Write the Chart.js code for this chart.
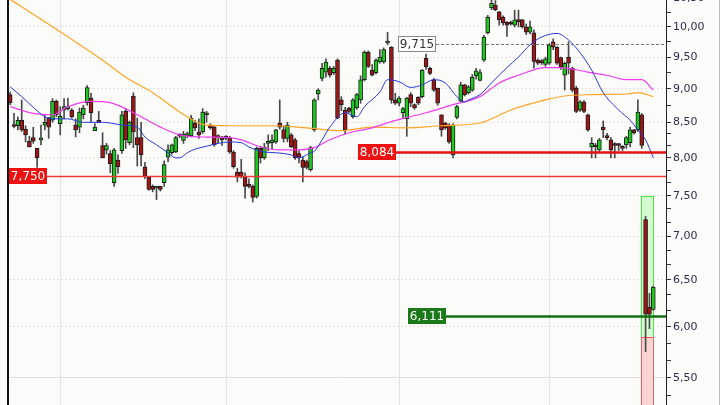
<!DOCTYPE html>
<html>
<head>
<meta charset="utf-8">
<script src="https://cdn.jsdelivr.net/npm/chart.js@4.4.1/dist/chart.umd.min.js"></script>
<style>
html, body { margin: 0; padding: 0; background: #fbfcf9; }
#wrap { width: 720px; height: 405px; position: relative; }
</style>
</head>
<body>
<div id="wrap"><canvas id="chart"></canvas></div>
<script>
// daily candles
var opens = [8.91,8.46,8.45,8.53,8.40,8.23,8.28,8.13,8.25,8.46,8.57,8.53,8.81,8.48,8.68,8.70,8.68,8.46,8.43,8.61,
  8.79,8.86,8.38,8.52,8.17,8.11,8.06,7.67,7.97,8.10,8.66,8.21,8.89,8.28,8.28,7.88,7.74,7.62,7.60,7.62,
  7.67,8.01,8.07,8.08,8.32,8.24,8.31,8.31,8.49,8.36,8.36,8.61,8.46,8.43,8.29,8.26,8.27,8.28,8.08,7.81,
  7.81,7.75,7.63,7.62,7.49,8.13,8.00,8.20,8.21,8.22,8.49,8.39,8.27,8.32,8.25,8.06,7.97,7.95,7.84,8.39,
  8.92,9.16,9.26,9.32,9.25,9.45,8.83,8.68,8.71,8.58,8.71,8.83,9.14,9.58,9.29,9.25,9.42,9.42,9.73,9.66,
  8.83,8.78,8.64,8.55,8.91,8.76,8.87,8.88,9.48,9.32,9.14,9.01,8.61,8.49,8.46,8.04,8.57,8.81,9.06,8.94,
  8.98,9.20,9.13,9.45,9.90,10.33,10.38,10.26,10.17,10.08,10.08,10.03,10.12,10.12,10.00,9.91,9.90,9.45,9.44,9.38,
  9.40,9.75,9.66,9.49,9.21,9.50,9.32,9.01,8.68,8.80,8.61,8.15,8.17,8.11,8.43,8.29,8.25,8.18,8.18,8.15,
  8.18,8.21,8.39,8.39,8.61,7.20,6.20,6.18];
var highs = [8.95,8.63,8.58,8.83,8.45,8.30,8.43,8.13,8.46,8.60,8.57,8.85,8.83,8.73,8.85,8.86,8.70,8.55,8.71,8.75,
  9.05,8.93,8.48,8.66,8.35,8.20,8.10,8.13,8.04,8.66,8.70,8.52,8.94,8.56,8.50,7.94,7.75,7.64,7.62,7.62,
  7.96,8.18,8.19,8.30,8.34,8.37,8.36,8.60,8.53,8.55,8.70,8.66,8.48,8.45,8.32,8.30,8.31,8.30,8.10,7.86,
  7.98,7.80,7.72,7.64,8.15,8.16,8.20,8.32,8.32,8.40,8.83,8.45,8.50,8.34,8.27,8.10,8.01,7.97,8.16,8.85,
  9.00,9.40,9.47,9.35,9.35,9.47,8.88,8.72,8.72,8.85,8.93,9.20,9.60,9.60,9.38,9.47,9.62,9.65,9.91,9.67,
  8.93,8.88,8.72,8.87,8.94,8.77,8.88,9.30,9.55,9.34,9.16,9.01,8.61,8.50,8.48,8.48,8.75,9.10,9.07,9.05,
  9.22,9.32,9.30,9.86,10.20,10.47,10.46,10.27,10.19,10.09,10.10,10.29,10.29,10.13,10.05,10.10,9.95,9.47,9.46,9.50,
  9.72,9.80,9.67,9.50,9.42,9.75,9.34,9.04,8.82,8.82,8.62,8.28,8.20,8.27,8.52,8.34,8.28,8.21,8.20,8.17,
  8.30,8.43,8.40,8.83,8.63,7.24,6.35,6.43];
var lows = [8.76,8.42,8.39,8.37,8.22,8.15,8.20,7.87,8.18,8.39,8.27,8.50,8.58,8.32,8.55,8.68,8.56,8.29,8.35,8.55,
  8.75,8.50,8.38,8.50,8.00,8.05,7.80,7.62,7.79,8.06,8.13,8.18,8.14,7.89,7.89,7.72,7.57,7.55,7.45,7.56,
  7.62,7.95,8.05,8.07,8.28,8.20,8.28,8.29,8.38,8.27,8.34,8.50,8.40,8.16,8.21,8.17,8.25,8.06,7.86,7.68,
  7.73,7.47,7.60,7.42,7.47,7.93,7.98,8.10,8.12,8.20,8.40,8.22,8.22,8.14,7.98,7.93,7.68,7.85,7.82,8.37,
  8.83,9.12,9.18,9.18,9.22,8.55,8.67,8.33,8.64,8.56,8.69,8.78,9.12,9.33,9.20,9.23,9.40,9.40,9.70,8.78,
  8.76,8.74,8.56,8.30,8.73,8.69,8.76,8.86,9.30,9.22,8.96,8.75,8.30,8.40,8.20,8.00,8.55,8.80,8.89,8.92,
  8.96,9.15,9.12,9.43,9.88,10.30,10.28,10.03,10.03,9.84,10.03,10.00,10.00,9.98,9.87,9.88,9.32,9.38,9.38,9.35,
  9.38,9.62,9.38,9.30,8.98,9.23,8.95,8.64,8.66,8.64,8.37,8.00,8.00,8.08,8.28,8.25,8.00,8.00,8.10,8.10,
  8.13,8.15,8.33,8.37,8.13,5.75,5.98,6.17];
var closes = [8.79,8.44,8.53,8.39,8.32,8.15,8.23,8.00,8.26,8.50,8.43,8.81,8.61,8.59,8.73,8.71,8.58,8.39,8.65,8.71,
  9.02,8.64,8.43,8.50,8.00,8.17,7.92,8.11,7.88,8.61,8.25,8.50,8.36,8.18,8.04,7.75,7.58,7.58,7.61,7.58,
  7.91,8.11,8.18,8.28,8.30,8.33,8.32,8.56,8.42,8.32,8.65,8.64,8.42,8.18,8.28,8.25,8.28,8.08,7.88,7.74,
  7.75,7.62,7.62,7.48,8.13,8.00,8.15,8.22,8.25,8.39,8.43,8.27,8.46,8.15,8.00,8.00,7.87,7.87,8.14,8.83,
  8.98,9.32,9.42,9.21,9.32,8.56,8.76,8.39,8.66,8.83,8.91,9.14,9.58,9.35,9.21,9.45,9.50,9.62,9.75,8.83,
  8.78,8.86,8.70,8.86,8.78,8.71,8.78,9.29,9.34,9.24,8.98,8.78,8.39,8.42,8.22,8.46,8.73,9.06,8.91,9.03,
  9.18,9.28,9.25,9.83,10.17,10.41,10.30,10.12,10.07,10.03,10.05,10.12,10.09,10.00,9.91,10.00,9.43,9.40,9.41,9.47,
  9.70,9.66,9.40,9.34,9.40,9.40,8.98,8.66,8.80,8.66,8.39,8.20,8.15,8.25,8.39,8.28,8.11,8.17,8.17,8.13,
  8.28,8.39,8.35,8.65,8.17,6.13,6.13,6.42];

// moving averages: [candle index, value]
var maShort = [[0,9.03],[3,8.88],[6,8.72],[9,8.58],[11,8.55],[15,8.55],[19,8.50],[24,8.50],[26,8.49],[29,8.46],
  [33,8.43],[35,8.29],[38,8.18],[41,8.07],[43,8.00],[44,8.00],[46,8.07],[48,8.12],[51,8.16],[54,8.20],[57,8.22],
  [60,8.21],[62,8.15],[66,8.08],[69,8.07],[73,8.04],[75,8.00],[78,8.07],[79,8.09],[81,8.25],[83,8.43],[87,8.64],
  [90,8.58],[92,8.73],[96,8.95],[98,9.14],[101,9.11],[104,9.02],[107,9.06],[110,9.14],[113,9.09],[116,8.88],
  [118,8.80],[119,8.83],[122,8.91],[125,9.09],[129,9.33],[132,9.50],[135,9.70],[138,9.83],[142,9.89],[145,9.78],
  [148,9.57],[151,9.29],[154,8.94],[158,8.68],[161,8.53],[163,8.39],[165,8.25],[167,8.00]];
var maMid = [[0,8.73],[6,8.63],[11,8.61],[15,8.73],[21,8.81],[26,8.79],[32,8.64],[39,8.43],[44,8.32],[50,8.29],
  [57,8.28],[60,8.25],[65,8.15],[70,8.11],[75,8.11],[79,8.14],[83,8.25],[88,8.35],[94,8.42],[99,8.51],[103,8.57],
  [108,8.64],[115,8.76],[122,8.88],[127,9.09],[132,9.21],[139,9.33],[143,9.33],[150,9.26],[155,9.21],[160,9.14],
  [164,9.14],[167,8.98]];
var maLong = [[0,10.48],[3,10.35],[13,9.92],[24,9.45],[30,9.18],[37,8.94],[46,8.58],[51,8.46],[60,8.45],[68,8.45],
  [77,8.42],[86,8.38],[94,8.43],[103,8.42],[112,8.45],[122,8.49],[130,8.68],[139,8.83],[144,8.89],[151,8.91],
  [160,8.92],[163,8.94],[167,8.88]];

var majorTicks = [5.5, 6, 6.5, 7, 7.5, 8, 8.5, 9, 9.5, 10, 10.5];
var minorTicks = [5.333, 5.667, 5.833, 6.167, 6.333, 6.667, 6.833, 7.167, 7.333, 7.667, 7.833, 8.167, 8.333, 8.75, 9.25, 9.75, 10.25];
var monthStarts = [13, 56, 101, 140];

var levelValues = [9.715, 8.084, 7.75, 6.111];
var levelTexts = ['9,715', '8,084', '7,750', '6,111'];
var levelLabelAt = [100.8, 90.4, -0.3, 103.4];
var zoneFrom = 163.8, zoneTo = 166.8;
var zoneLevels = [7.5, 5.9];

var levelStyle = [
  {line: '#777777', width: 1, dash: [3, 2], box: '#ffffff', edge: '#888888', text: '#333333'},
  {line: '#e41010', width: 2.5, dash: [], box: '#ee1111', edge: '#ee1111', text: '#ffffff'},
  {line: '#f03a3a', width: 1.5, dash: [], box: '#ee1111', edge: '#ee1111', text: '#ffffff'},
  {line: '#127012', width: 2.5, dash: [], box: '#1a7a1a', edge: '#1a7a1a', text: '#ffffff'}
];

function isMajor(v) {
  return Math.abs(v * 2 - Math.round(v * 2)) < 1e-6;
}

var wickData = [], bodyData = [], bodyColors = [];
for (var i = 0; i < opens.length; i++) {
  wickData.push({x: i, y: [lows[i], highs[i]]});
  bodyData.push({x: i, y: [Math.min(opens[i], closes[i]), Math.max(opens[i], closes[i])]});
  bodyColors.push(closes[i] >= opens[i] ? '#1ec81e' : '#a01515');
}

function pts(arr) {
  return arr.map(function(p) { return {x: p[0], y: p[1]}; });
}

var overlay = {
  id: 'overlay',
  beforeDraw: function(chart) {
    var c = chart.ctx;
    c.save();
    c.fillStyle = '#fbfcf9';
    c.fillRect(0, 0, chart.width, chart.height);
    c.restore();
  },
  beforeDatasetsDraw: function(chart) {
    var c = chart.ctx, xs = chart.scales.x, ys = chart.scales.y, a = chart.chartArea;
    c.save();
    c.strokeStyle = '#e4e4e4';
    c.lineWidth = 1;
    monthStarts.forEach(function(m) {
      var px = Math.round(xs.getPixelForValue(m)) + 0.5;
      c.beginPath(); c.moveTo(px, a.top); c.lineTo(px, a.bottom); c.stroke();
    });
    var x1 = xs.getPixelForValue(zoneFrom), x2 = xs.getPixelForValue(zoneTo);
    var yTop = ys.getPixelForValue(zoneLevels[0]), yMid = ys.getPixelForValue(zoneLevels[1]);
    c.fillStyle = '#d6fbd2';
    c.fillRect(x1, yTop, x2 - x1, yMid - yTop);
    c.strokeStyle = '#3cf03c';
    c.strokeRect(Math.round(x1) + 0.5, Math.round(yTop) + 0.5, Math.round(x2 - x1), Math.round(yMid - yTop));
    c.fillStyle = '#fbd3d3';
    c.fillRect(x1, yMid, x2 - x1, a.bottom - yMid + 2);
    c.strokeStyle = '#f05a5a';
    c.strokeRect(Math.round(x1) + 0.5, Math.round(yMid) + 0.5, Math.round(x2 - x1), a.bottom - yMid + 5);
    c.restore();
  },
  afterDatasetsDraw: function(chart) {
    var c = chart.ctx, xs = chart.scales.x, ys = chart.scales.y, a = chart.chartArea;
    c.save();
    c.font = '12px "DejaVu Sans"';
    c.textBaseline = 'middle';
    c.textAlign = 'center';
    levelValues.forEach(function(v, k) {
      var s = levelStyle[k];
      var py = Math.round(ys.getPixelForValue(v));
      var bx = Math.max(a.left - 1, Math.round(xs.getPixelForValue(levelLabelAt[k])));
      var bw = Math.round(c.measureText(levelTexts[k]).width) + 4;
      c.strokeStyle = s.line;
      c.lineWidth = s.width;
      c.setLineDash(s.dash);
      c.beginPath();
      c.moveTo(k == 2 ? a.left : bx + bw, py + 0.5);
      c.lineTo(a.right, py + 0.5);
      c.stroke();
      c.setLineDash([]);
      c.fillStyle = s.box;
      c.fillRect(bx, py - 8, bw, 16);
      c.lineWidth = 1;
      c.strokeStyle = s.edge;
      c.strokeRect(bx + 0.5, py - 7.5, bw - 1, 15);
      c.fillStyle = s.text;
      c.fillText(levelTexts[k], bx + bw / 2, py + 0.5);
    });
    c.restore();
  },
  afterDraw: function(chart) {
    var c = chart.ctx, a = chart.chartArea;
    c.save();
    c.fillStyle = '#111111';
    c.fillRect(a.left - 2, 0, 2, chart.height);
    c.fillStyle = '#bbbbbb';
    c.fillRect(chart.width - 1, 0, 1, chart.height);
    c.restore();
  }
};

var ctx = document.getElementById('chart').getContext('2d');
var myChart = new Chart(ctx, {
  type: 'bar',
  data: {
    datasets: [{
      type: 'line', label: 'short', data: pts(maShort), borderColor: '#2a36e0', borderWidth: 1,
      pointRadius: 0, cubicInterpolationMode: 'monotone', order: 0
    }, {
      type: 'line', label: 'mid', data: pts(maMid), borderColor: '#f03cf0', borderWidth: 1.2,
      pointRadius: 0, cubicInterpolationMode: 'monotone', order: 0
    }, {
      type: 'line', label: 'long', data: pts(maLong), borderColor: '#ffa424', borderWidth: 1.2,
      pointRadius: 0, cubicInterpolationMode: 'monotone', order: 0
    }, {
      label: 'body', data: bodyData, backgroundColor: bodyColors, borderColor: '#1c1c1c', borderWidth: 1,
      borderSkipped: false, barThickness: 4, minBarLength: 2, grouped: false, order: 1
    }, {
      label: 'wick', data: wickData, backgroundColor: '#4a4a4a', borderWidth: 0,
      barThickness: 1, grouped: false, order: 2
    }]
  },
  options: {
    animation: false,
    responsive: true,
    maintainAspectRatio: false,
    devicePixelRatio: 1,
    layout: {padding: {left: 9, top: 0, right: 0, bottom: 0}},
    plugins: {legend: {display: false}, tooltip: {enabled: false}},
    scales: {
      x: {type: 'linear', display: false, min: -0.3, max: 170.3, offset: false},
      y: {
        type: 'logarithmic', position: 'right', min: 5.25, max: 10.47,
        afterBuildTicks: function(scale) {
          scale.ticks = majorTicks.concat(minorTicks).sort(function(p, q) { return q - p; })
            .map(function(v) { return {value: v}; });
        },
        afterFit: function(scale) {
          scale.width = 54;
          scale.paddingTop = 0;
          scale.paddingBottom = 0;
        },
        ticks: {
          autoSkip: false, padding: 2, color: '#2c2c4a',
          font: {family: 'DejaVu Sans', size: 11},
          callback: function(v) { return isMajor(v) ? v.toFixed(2).replace('.', ',') : ''; }
        },
        grid: {
          color: function(c) { return c.tick && isMajor(c.tick.value) ? '#eadcdc' : 'rgba(0,0,0,0)'; },
          tickColor: '#333333', tickLength: 5, lineWidth: 1
        },
        border: {
          color: '#222222', width: 1,
          dash: function(c) { return c.tick && c.tick.value == 5.5 ? [] : [2, 2]; }
        }
      }
    }
  },
  plugins: [overlay]
});
</script>
</body>
</html>
